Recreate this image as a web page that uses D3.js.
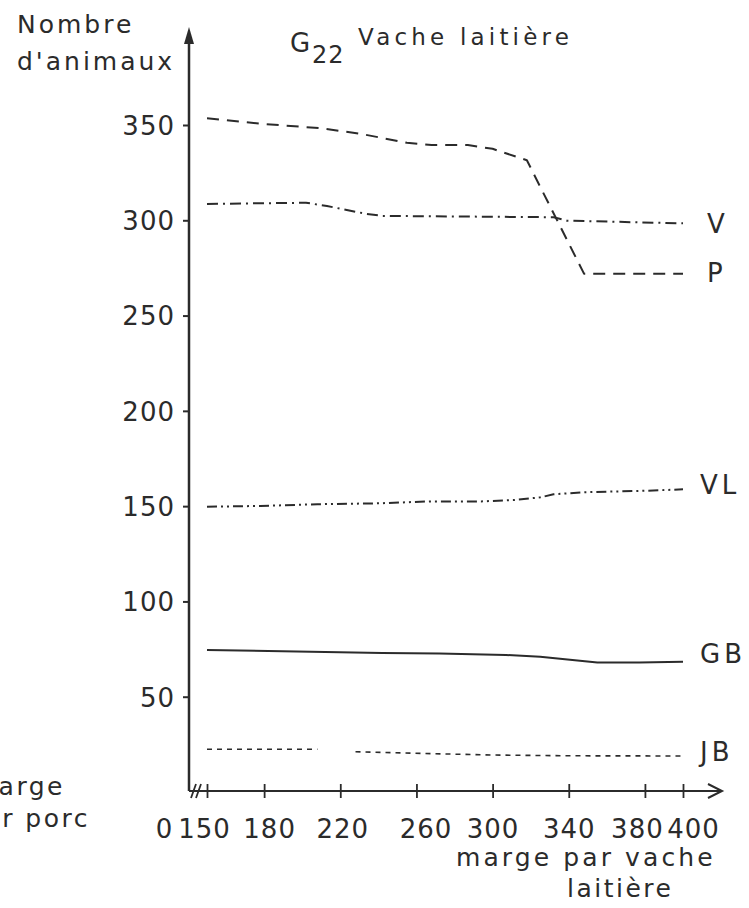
<!DOCTYPE html>
<html>
<head>
<meta charset="utf-8">
<script src="https://cdn.jsdelivr.net/npm/d3@7"></script>
<style>
  html, body { margin: 0; padding: 0; background: #ffffff; }
  svg { display: block; }
  text { font-family: "DejaVu Sans", sans-serif; fill: #2b2b2b; }
</style>
</head>
<body>
<svg id="chart" width="749" height="908"></svg>
<script>
// ---------- data ----------
const xTicks = [150, 180, 220, 260, 300, 340, 380, 400];
const yTicks = [50, 100, 150, 200, 250, 300, 350];

const pX  = [150, 180, 210, 230, 255, 268, 287, 300, 318, 348, 400];
const pY  = [353.5, 350.5, 348.3, 345.5, 340.7, 339.5, 339.5, 337.5, 331.5, 272, 272];

const vX  = [150, 202, 213, 234, 242, 332, 339, 400];
const vY  = [308.6, 309.2, 307.5, 303.3, 302.3, 301.6, 299.8, 298.4];

const vlX = [150, 178, 208, 241, 267, 294, 311, 325, 332, 348, 378, 400];
const vlY = [149.7, 150.1, 151, 151.5, 152.5, 152.5, 153.2, 154.6, 156.2, 157.3, 158, 158.8];

const gbX = [150, 242, 272, 307, 325, 355, 377, 400];
const gbY = [74.5, 73, 72.7, 71.9, 71, 67.9, 67.9, 68.4];

// null marks the gap in the JB line
const jbX = [150, 208, 218, 228, 278, 300, 340, 400];
const jbY = [22.4, 22.4, null, 21.1, 19.9, 19.4, 19.0, 18.9];

const seriesNames = ["P", "V", "VL", "GB", "JB"];

// ---------- layout / style ----------
const svg = d3.select("#chart");
const ink = "#2b2b2b";

const x = d3.scaleLinear().domain([150, 400]).range([207, 683]);
const y = d3.scaleLinear().domain([0, 350]).range([792, 125]);
const axisX = 189;          // vertical axis position (broken-axis origin)
const axisY = y(0) - 1;     // horizontal axis position

const styles = {
  P:  { dash: "12,8",            width: 2,   dx: 24, dy: -1 },
  V:  { dash: "11,5,2,5",        width: 2,   dx: 24, dy: 0 },
  VL: { dash: "10,4,2,4,2,4",    width: 2,   dx: 17, dy: -5 },
  GB: { dash: null,              width: 2,   dx: 17, dy: -8 },
  JB: { dash: "5,5",             width: 1.6, dx: 17, dy: -4 }
};
const seriesData = {
  P:  pX.map((d, i) => [d, pY[i]]),
  V:  vX.map((d, i) => [d, vY[i]]),
  VL: vlX.map((d, i) => [d, vlY[i]]),
  GB: gbX.map((d, i) => [d, gbY[i]]),
  JB: jbX.map((d, i) => [d, jbY[i]])
};

// ---------- axes ----------
svg.append("line")
  .attr("x1", axisX).attr("x2", axisX)
  .attr("y1", 36).attr("y2", axisY)
  .attr("stroke", ink).attr("stroke-width", 2.5);
svg.append("path")
  .attr("d", `M${axisX},27 L${axisX - 5},44 L${axisX + 5},44 Z`)
  .attr("fill", ink);

const yAxis = d3.axisLeft(y).tickValues(yTicks).tickSize(6).tickPadding(8);
const gy = svg.append("g").attr("transform", `translate(${axisX},0)`).call(yAxis);
gy.select(".domain").remove();
gy.selectAll(".tick line").attr("stroke", ink).attr("stroke-width", 2);
gy.selectAll(".tick text")
  .attr("font-family", "DejaVu Sans").attr("font-size", 26)
  .attr("letter-spacing", 1).attr("fill", ink).attr("dy", "0.36em");

svg.append("line")
  .attr("x1", axisX).attr("x2", 722)
  .attr("y1", axisY).attr("y2", axisY)
  .attr("stroke", ink).attr("stroke-width", 2.2);
svg.append("path")
  .attr("d", `M708,${axisY - 7} L722,${axisY} L708,${axisY + 7}`)
  .attr("fill", "none").attr("stroke", ink).attr("stroke-width", 2);
svg.append("path")
  .attr("d", `M${axisX + 2},${axisY + 7} L${axisX + 7},${axisY - 7} M${axisX + 7},${axisY + 7} L${axisX + 12},${axisY - 7}`)
  .attr("stroke", ink).attr("stroke-width", 1.8).attr("fill", "none");

const labelNudge = { 150: -3, 180: 5, 220: 2, 260: 9, 300: 0, 340: 0, 380: -8, 400: 10 };
const xAxis = d3.axisBottom(x).tickValues(xTicks).tickSize(7).tickPadding(0).tickFormat(d3.format("d"));
const gx = svg.append("g").attr("transform", `translate(0,${axisY})`).call(xAxis);
gx.select(".domain").remove();
gx.selectAll(".tick line").attr("y1", -7).attr("y2", 7).attr("stroke", ink).attr("stroke-width", 1.8);
gx.selectAll(".tick text")
  .attr("font-family", "DejaVu Sans").attr("font-size", 26)
  .attr("letter-spacing", 1).attr("fill", ink)
  .attr("y", 47).attr("dy", 0)
  .attr("dx", d => labelNudge[d]);
svg.append("text").attr("x", axisX - 25).attr("y", axisY + 47)
  .attr("text-anchor", "middle").attr("font-size", 26).text("0");

// ---------- lines ----------
const line = d3.line()
  .defined(d => d[1] !== null)
  .x(d => x(d[0])).y(d => y(d[1]))
  .curve(d3.curveLinear);

seriesNames.forEach(name => {
  const st = styles[name];
  const data = seriesData[name];
  svg.append("path")
    .datum(data)
    .attr("d", line)
    .attr("fill", "none")
    .attr("stroke", ink)
    .attr("stroke-width", st.width)
    .attr("stroke-dasharray", st.dash)
    .attr("stroke-linejoin", "round");
  const last = data[data.length - 1];
  svg.append("text")
    .attr("x", x(last[0]) + st.dx)
    .attr("y", y(last[1]) + st.dy)
    .attr("dy", "0.36em")
    .attr("font-size", 26)
    .attr("letter-spacing", 4)
    .text(name);
});

// ---------- titles ----------
svg.append("text").attr("x", 17).attr("y", 33).attr("font-size", 25).attr("letter-spacing", 3).text("Nombre");
svg.append("text").attr("x", 17).attr("y", 70).attr("font-size", 25).attr("letter-spacing", 3).text("d'animaux");

svg.append("text").attr("x", 290).attr("y", 52).attr("font-size", 26).text("G");
svg.append("text").attr("x", 312).attr("y", 63).attr("font-size", 24).attr("letter-spacing", 1).text("22");
svg.append("text").attr("x", 358).attr("y", 45).attr("font-size", 23).attr("letter-spacing", 4.2).text("Vache laitière");

svg.append("text").attr("x", 65).attr("y", 795).attr("text-anchor", "end").attr("font-size", 25).attr("letter-spacing", 2.5).text("marge");
svg.append("text").attr("x", 90).attr("y", 827).attr("text-anchor", "end").attr("font-size", 25).attr("letter-spacing", 2.5).text("par porc");

svg.append("text").attr("x", 456).attr("y", 866).attr("font-size", 25).attr("letter-spacing", 3.1).text("marge par vache");
svg.append("text").attr("x", 567).attr("y", 897).attr("font-size", 25).attr("letter-spacing", 2.5).text("laitière");
</script>
</body>
</html>
